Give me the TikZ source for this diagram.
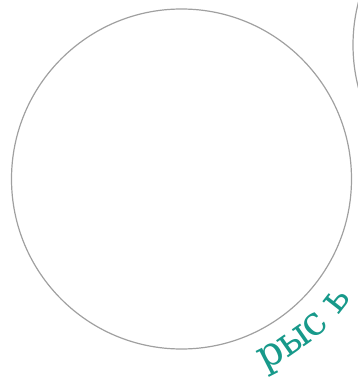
\documentclass[tikz,border=0pt]{standalone}
\usepackage{fontspec}
\setmainfont{DejaVu Serif}
\usetikzlibrary{decorations.text}
\definecolor{ringgray}{HTML}{A0A0A0}
\definecolor{lynxteal}{HTML}{17998A}
\tikzset{
  ring/.style={circle, draw=ringgray, line width=1.2pt, minimum size=340pt, inner sep=0pt},
}
\begin{document}
\begin{tikzpicture}[x=1pt,y=1pt]
\useasboundingbox (0,0) rectangle (358,380);
\clip (0,0) rectangle (358,380);
\node[ring] (main) at (181.5,201) {};
\node[ring] (other) at (523,335) {};
\coordinate (c) at (181.5,201);
\path[decorate, decoration={text along path, text align=left,
  text={|\fontsize{40}{40}\selectfont\color{lynxteal}|рыс ь}}]
  (c) ++(-66.5:208) arc[start angle=-66.5, end angle=-5, radius=208];
\end{tikzpicture}
\end{document}
